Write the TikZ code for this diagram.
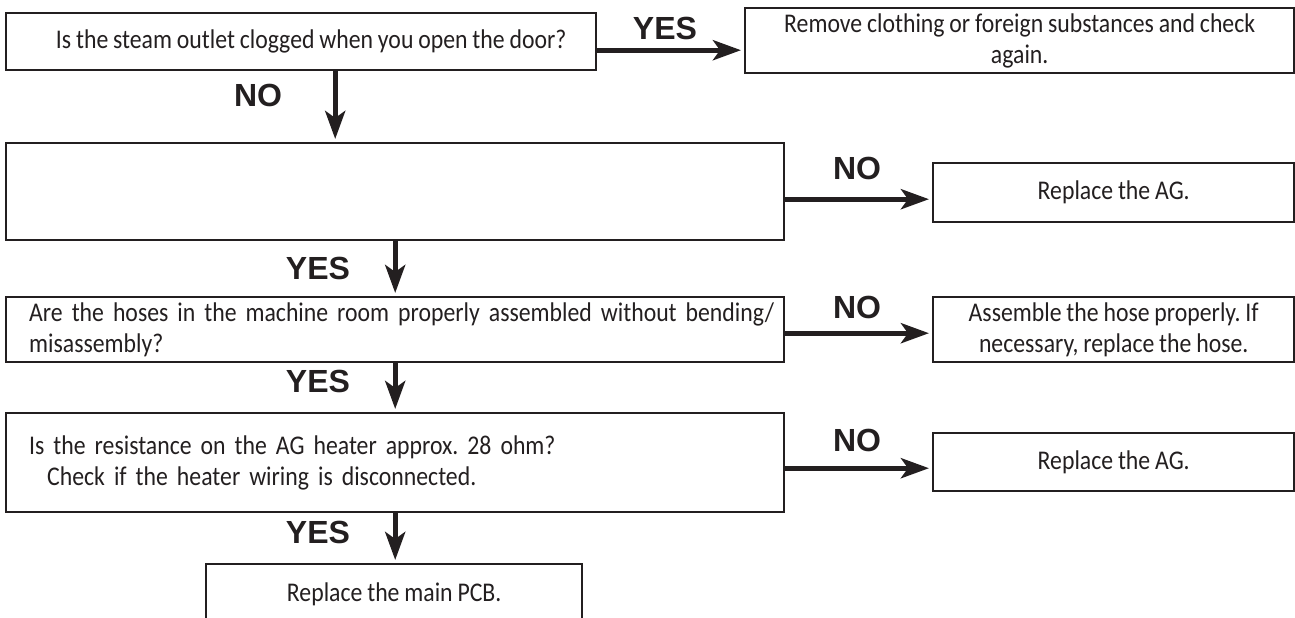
\documentclass[tikz,border=0pt]{standalone}
\usepackage{fontspec}
\setmainfont{Carlito}[FakeStretch=0.88,WordSpace=0.9]
\newfontfamily\lblfont{Liberation Sans}
\usetikzlibrary{arrows.meta,calc}
\definecolor{ink}{HTML}{231F20}
\frenchspacing
\begin{document}
\begin{tikzpicture}[x=1pt,y=-1pt,
  box/.style={draw=ink, line width=2.4pt, anchor=north west, inner sep=0pt, text=ink,
    font=\fontsize{27}{31}\selectfont, align=center},
  leftbox/.style={box, align=left, inner xsep=23pt, text width=732pt},
  lbl/.style={text=ink, font=\lblfont\bfseries\fontsize{32}{32}\selectfont, inner sep=0pt},
  arr/.style={draw=ink, line width=5pt, shorten >=3pt,
    -{Stealth[length=28pt,width=20pt,inset=7pt]}}]
\useasboundingbox (0,0) rectangle (1295,618);
% boxes
\node[box, minimum width=590pt, minimum height=57pt] (b1) at (5,12)
  {\hspace*{20pt}Is the steam outlet clogged when you open the door?};
\node[box, minimum width=549pt, minimum height=65pt] (r1) at (744,7)
  {Remove clothing or foreign substances and check\\again.};
\node[box, minimum width=778pt, minimum height=97pt] (b2) at (5,142) {};
\node[box, minimum width=361pt, minimum height=59pt] (r2) at (932,162)
  {Replace the AG.};
\node[leftbox, minimum width=778pt, minimum height=65pt] (b3) at (5,296)
  {\mbox{Are the hoses in the machine room properly assembled without bending/}\\misassembly?};
\node[box, minimum width=361pt, minimum height=65pt] (r3) at (932,296)
  {Assemble the hose properly. If\\necessary, replace the hose.};
\node[leftbox, minimum width=778pt, minimum height=99pt] (b4) at (5,412)
  {Is the resistance on the AG heater approx. 28 ohm?\\\hspace*{18pt}Check if the heater wiring is disconnected.};
\node[box, minimum width=361pt, minimum height=58pt] (r4) at (932,432)
  {Replace the AG.};
\node[box, minimum width=376pt, minimum height=60pt] (b5) at (205,563)
  {Replace the main PCB.};
% labels
\node[lbl] (y1) at (665,28) {YES};
\node[lbl] (n1) at (258,95) {NO};
\node[lbl] (n2) at (857,168) {NO};
\node[lbl] (y2) at (318,268) {YES};
\node[lbl] (n3) at (857,307) {NO};
\node[lbl] (y3) at (318,381) {YES};
\node[lbl] (n4) at (857,440) {NO};
\node[lbl] (y4) at (318,532) {YES};
% connectors
\coordinate (a1) at ([yshift=-8.5pt]b1.east);
\draw[arr] (a1) -- (a1 -| r1.west);
\coordinate (a2) at ([yshift=-7.5pt]b2.east);
\draw[arr] (a2) -- (a2 -| r2.west);
\coordinate (a3) at ([yshift=-3.5pt]b3.east);
\draw[arr] (a3) -- (a3 -| r3.west);
\coordinate (a4) at ([yshift=-5.5pt]b4.east);
\draw[arr] (a4) -- (a4 -| r4.west);
\coordinate (d1) at ([xshift=34pt]b1.south);
\draw[arr] (d1) -- (d1 |- b2.north);
\draw[arr] (b2.south) -- (b3.north);
\draw[arr] (b3.south) -- (b4.north);
\draw[arr] (b4.south) -- (b4.south |- b5.north);
\end{tikzpicture}
\end{document}
